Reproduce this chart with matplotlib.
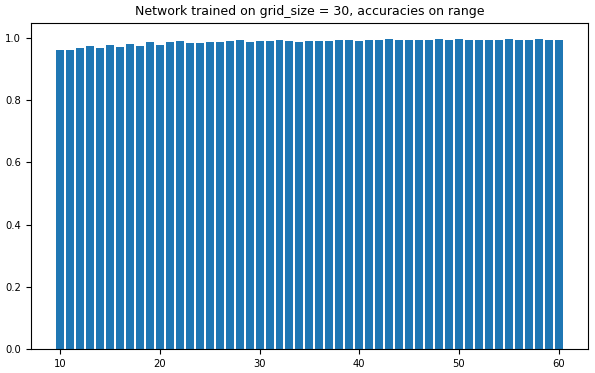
import numpy as np
import matplotlib
matplotlib.use("Agg")
import matplotlib.pyplot as plt

grid_sizes = list(range(10, 61))
accuracies = [
    0.961, 0.961, 0.968, 0.974, 0.968, 0.977, 0.971, 0.981, 0.974, 0.987,
    0.977, 0.987, 0.990, 0.984, 0.984, 0.987, 0.987, 0.990, 0.993, 0.987,
    0.990, 0.990, 0.993, 0.990, 0.987, 0.990, 0.990, 0.990, 0.993, 0.993,
    0.990, 0.993, 0.993, 0.996, 0.993, 0.993, 0.993, 0.993, 0.996, 0.993,
    0.996, 0.993, 0.993, 0.993, 0.993, 0.996, 0.993, 0.993, 0.996, 0.993,
    0.993,
]

fig = plt.figure(figsize=(5.95, 3.73), dpi=100)
ax = fig.add_axes([0.052, 0.064, 0.936, 0.873])
ax.bar(grid_sizes, accuracies, width=0.8, color='#1f77b4')
ax.set_title('Network trained on grid_size = 30, accuracies on range', fontsize=9)
ax.tick_params(labelsize=7.2)
ax.set_xticks([10, 20, 30, 40, 50, 60])
fig.savefig('out.png', dpi=100, facecolor='white')
